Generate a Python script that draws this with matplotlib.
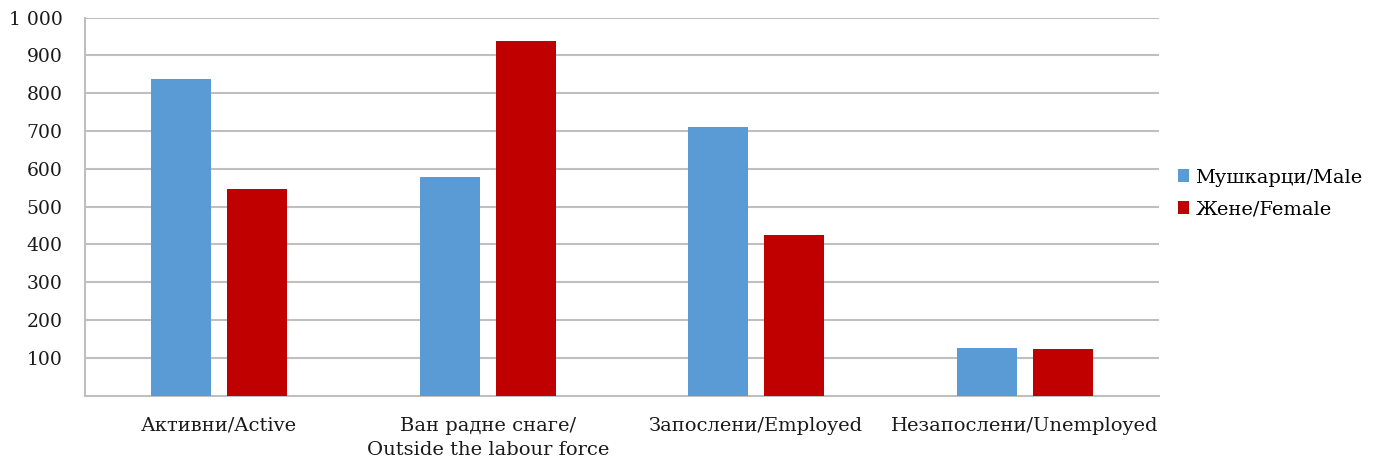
import numpy as np
import matplotlib.pyplot as plt
from matplotlib.ticker import FuncFormatter

# подаци очитани са графикона
categories = ['Активни/Active', 'Ван радне снаге/\nOutside the labour force',
              'Запослени/Employed', 'Незапослени/Unemployed']
male = [837, 578, 710, 126]
female = [546, 938, 424, 123]
series_names = ['Мушкарци/Male', 'Жене/Female']
yticks = [100, 200, 300, 400, 500, 600, 700, 800, 900, 1000]

plt.rcParams['font.family'] = ['DejaVu Serif']

fig = plt.figure(figsize=(13.78, 4.63), dpi=100)
ax = fig.add_axes([0.0617, 0.1454, 0.7794, 0.8164])

x = np.arange(len(categories))
w = 0.2235
off = 0.1415
ax.bar(x - off, male, w, color='#5B9BD5', label=series_names[0], zorder=3)
ax.bar(x + off, female, w, color='#C00000', label=series_names[1], zorder=3)

ax.set_xlim(-0.5, len(categories) - 0.5)
ax.set_ylim(0, 1000)
ax.set_yticks(yticks)
ax.yaxis.set_major_formatter(FuncFormatter(lambda v, p: f'{int(v):,}'.replace(',', ' ')))
ax.set_xticks(x)
ax.set_xticklabels(categories, linespacing=1.45)
ax.tick_params(axis='both', length=0, colors='#1a1a1a')
ax.tick_params(axis='x', pad=15, labelsize=14)
ax.tick_params(axis='y', pad=16, labelsize=13.5)

ax.grid(axis='y', color='#bfbfbf', linewidth=1.5, zorder=0)
for s in ['top', 'right']:
    ax.spines[s].set_visible(False)
for s in ['left', 'bottom']:
    ax.spines[s].set_color('#bfbfbf')
    ax.spines[s].set_linewidth(1.5)

ax.legend(loc='center left', bbox_to_anchor=(1.003, 0.535), frameon=False,
          fontsize=14, handlelength=0.55, handleheight=0.65, handletextpad=0.35,
          labelspacing=0.7, borderpad=0.3)

fig.savefig('out.png', dpi=100)
